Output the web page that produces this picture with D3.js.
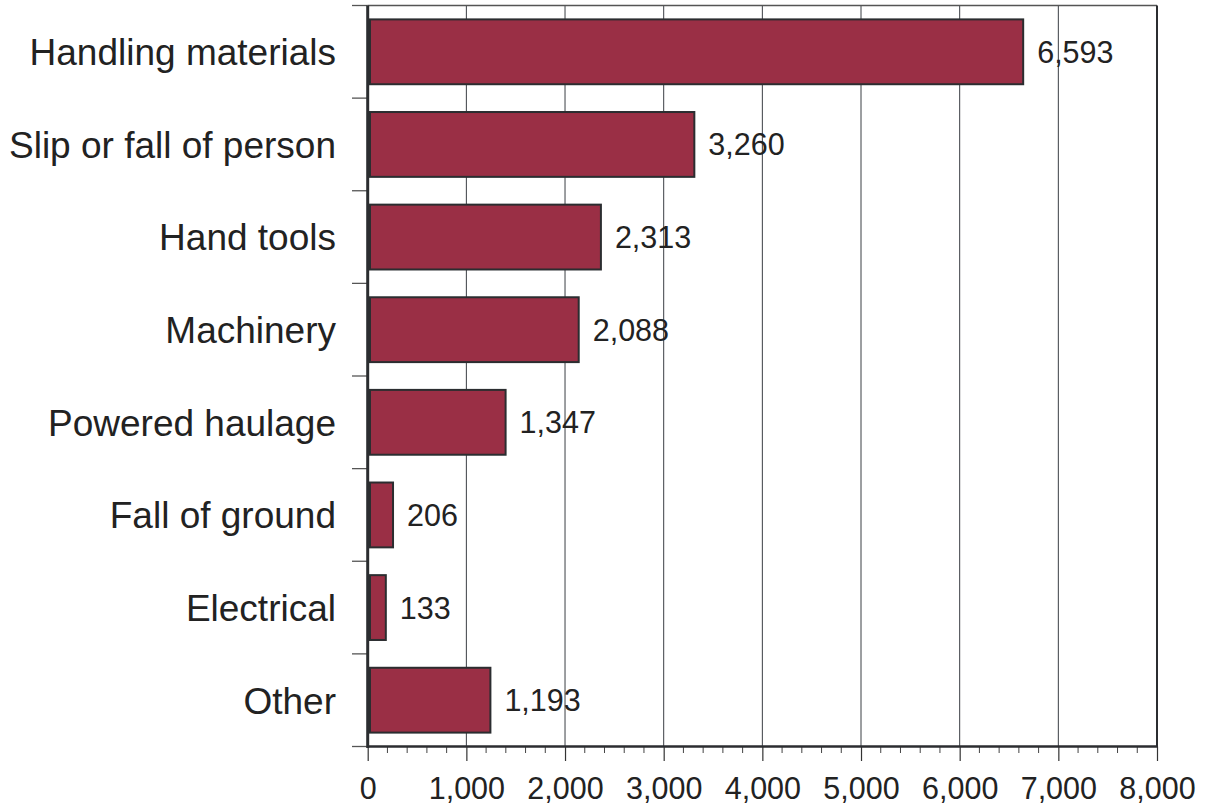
<!DOCTYPE html>
<html><head><meta charset="utf-8">
<script src="https://cdn.jsdelivr.net/npm/d3@7"></script>
<style>
html,body{margin:0;padding:0;background:#fff;}
svg{display:block;font-family:"Liberation Sans",Arial,sans-serif;}
</style></head>
<body>
<svg id="chart" width="1205" height="807"></svg>
<script>
const categories = ["Handling materials","Slip or fall of person","Hand tools","Machinery","Powered haulage","Fall of ground","Electrical","Other"];
const values = [6593, 3260, 2313, 2088, 1347, 206, 133, 1193];
const xTicks = [0,1000,2000,3000,4000,5000,6000,7000,8000];

const svg = d3.select("#chart");
const pLeft = 367.7, pRight = 1157, pTop = 5.5, pBottom = 746.5;
const x = d3.scaleLinear().domain([0, 8000]).range([pLeft, pRight]);
const y = d3.scaleBand().domain(categories).range([pTop, pBottom]).paddingInner(0.3).paddingOuter(0.15);
const dark = "#2b2d30";

// gridlines
svg.append("g").selectAll("line").data(xTicks.slice(1, -1)).join("line")
  .attr("x1", d => x(d)).attr("x2", d => x(d)).attr("y1", pTop).attr("y2", pBottom)
  .attr("stroke", "#3a3e44").attr("stroke-width", 1);

// minor ticks
const minor = d3.range(0, 8001, 200).filter(d => d % 1000 !== 0);
svg.append("g").selectAll("line").data(minor).join("line")
  .attr("x1", d => x(d)).attr("x2", d => x(d)).attr("y1", pBottom).attr("y2", pBottom + 6.5)
  .attr("stroke", "#444").attr("stroke-width", 1);

// x axis
const xAxis = d3.axisBottom(x).tickValues(xTicks).tickSize(14.5).tickPadding(16)
  .tickFormat(d3.format(","));
const gx = svg.append("g").attr("transform", `translate(0,${pBottom})`).call(xAxis);
gx.select(".domain").remove();
gx.selectAll(".tick line").attr("stroke", "#333").attr("stroke-width", 1.2);
gx.selectAll(".tick text").attr("font-size", 30.5).attr("fill", "#222")
  .attr("font-family", "Liberation Sans, Arial, sans-serif");

// y boundaries ticks
const bounds = d3.range(categories.length + 1).map(i => pTop + i * y.step());
svg.append("g").selectAll("line").data(bounds).join("line")
  .attr("x1", 352).attr("x2", pLeft).attr("y1", d => d).attr("y2", d => d)
  .attr("stroke", "#555").attr("stroke-width", 1.3);

// category labels
svg.append("g").selectAll("text").data(categories).join("text")
  .attr("x", 336).attr("y", d => y(d) + y.bandwidth() / 2).attr("dy", "0.36em")
  .attr("text-anchor", "end").attr("font-size", 37).attr("fill", "#222").text(d => d);

// bars
svg.append("g").selectAll("rect").data(values).join("rect")
  .attr("x", x(0) + 2.3).attr("y", (d, i) => y(categories[i]))
  .attr("width", d => x(d) - x(0) + 2.7).attr("height", y.bandwidth())
  .attr("fill", "#9a2f45").attr("stroke", dark).attr("stroke-width", 2);

// value labels
svg.append("g").selectAll("text").data(values).join("text")
  .attr("x", d => x(d) + 19).attr("y", (d, i) => y(categories[i]) + y.bandwidth() / 2).attr("dy", "0.36em")
  .attr("font-size", 30.5).attr("fill", "#222").text(d => d3.format(",")(d));

// frame
svg.append("line").attr("x1", pLeft).attr("x2", pRight).attr("y1", pTop).attr("y2", pTop)
  .attr("stroke", "#555").attr("stroke-width", 1.5);
svg.append("line").attr("x1", pRight).attr("x2", pRight).attr("y1", pTop).attr("y2", pBottom)
  .attr("stroke", dark).attr("stroke-width", 2);
svg.append("line").attr("x1", pLeft).attr("x2", pLeft).attr("y1", pTop).attr("y2", pBottom + 1.5)
  .attr("stroke", dark).attr("stroke-width", 3);
svg.append("line").attr("x1", pLeft).attr("x2", pRight + 1).attr("y1", pBottom).attr("y2", pBottom)
  .attr("stroke", dark).attr("stroke-width", 2.5);
</script>
</body></html>
